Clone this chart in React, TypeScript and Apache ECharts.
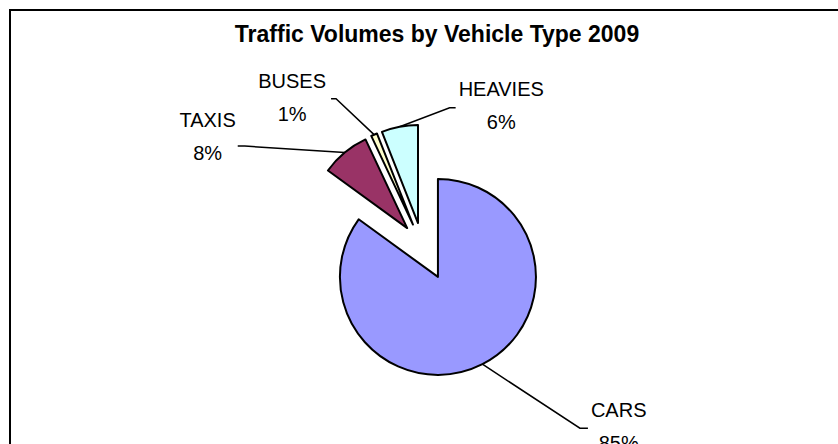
import React, { useEffect, useRef } from 'react';
import * as echarts from 'echarts';

const TITLE = 'Traffic Volumes by Vehicle Type 2009';
const categories = ['CARS', 'TAXIS', 'BUSES', 'HEAVIES'];
const shares = [85, 8, 1, 6];
const colors = ['#9999FF', '#993366', '#FFFFCC', '#CCFFFF'];

const FONT = '"Liberation Sans", Arial, Helvetica, sans-serif';
const PIE_CENTER = [422.5, 246.6];
const RADIUS = 98;
const EXPLODE = [34, 24, 24, 24];
// leader-line geometry relative to the slice's outer mid point
const LABEL_GEOM: { elbow: number[]; end: number[]; text: number[]; align: 'left' | 'right' }[] = [
  { elbow: [97.5, 64], end: [105.5, 64], text: [108.5, 62.5], align: 'left' },
  { elbow: [-100, -6.5], end: [-107, -6.5], text: [-109, -16], align: 'right' },
  { elbow: [-38, -36], end: [-43, -36], text: [-48, -37.5], align: 'right' },
  { elbow: [50, -19], end: [56, -19], text: [59, -21], align: 'left' },
];

function buildOption() {
  const total = shares.reduce((a, b) => a + b, 0);
  let cum = 0;
  const series = categories.map((cat, i) => {
    const mid = ((cum + shares[i] / 2) / total) * Math.PI * 2;
    cum += shares[i];
    const dx = Math.sin(mid);
    const dy = -Math.cos(mid);
    const apex = [PIE_CENTER[0] + EXPLODE[i] * dx, PIE_CENTER[1] + EXPLODE[i] * dy];
    const p1 = [apex[0] + RADIUS * dx, apex[1] + RADIUS * dy];
    const g = LABEL_GEOM[i];
    return {
      type: 'pie',
      silent: true,
      center: apex,
      radius: RADIUS,
      startAngle: 90,
      clockwise: true,
      avoidLabelOverlap: false,
      percentPrecision: 0,
      emphasis: { disabled: true },
      label: {
        show: true,
        position: 'outside',
        color: '#000',
        fontFamily: FONT,
        fontSize: 20,
        formatter: (p: any) => `{t|${p.name}}\n{t|${p.percent}%}`,
        rich: {
          t: { fontSize: 20, lineHeight: 33, align: 'center', color: '#000', fontFamily: FONT },
        },
      },
      labelLine: { show: true, length: 10, length2: 10, lineStyle: { color: '#000', width: 1.5 } },
      labelLayout: (params: any) =>
        params.dataIndex === i
          ? {
              x: p1[0] + g.text[0],
              y: p1[1] + g.text[1],
              align: g.align,
              verticalAlign: 'middle',
              labelLinePoints: [
                [p1[0], p1[1]],
                [p1[0] + g.elbow[0], p1[1] + g.elbow[1]],
                [p1[0] + g.end[0], p1[1] + g.end[1]],
              ],
            }
          : {},
      data: categories.map((name, j) => ({
        name,
        value: shares[j],
        itemStyle:
          j === i
            ? { color: colors[j], borderColor: '#000', borderWidth: 2 }
            : { color: 'rgba(0,0,0,0)', borderWidth: 0 },
        label: { show: j === i },
        labelLine: { show: j === i },
      })),
    };
  });

  return {
    animation: false,
    backgroundColor: '#ffffff',
    title: {
      text: TITLE,
      left: 437,
      top: 22,
      padding: 0,
      textAlign: 'center',
      textStyle: { fontSize: 23, fontWeight: 'bold', color: '#000', fontFamily: FONT },
    },
    graphic: [
      {
        type: 'rect',
        shape: { x: 10, y: 10, width: 900, height: 500 },
        style: { fill: 'none', stroke: '#000', lineWidth: 2 },
        silent: true,
        z: -1,
      },
    ],
    series,
  };
}

export default function App() {
  const ref = useRef<HTMLDivElement>(null);
  useEffect(() => {
    document.body.style.margin = '0';
    if (!ref.current) return;
    const chart = echarts.init(ref.current, undefined, { renderer: 'svg' });
    chart.setOption(buildOption() as any);
    return () => chart.dispose();
  }, []);
  return <div ref={ref} style={{ width: 838, height: 444, position: 'absolute', left: 0, top: 0 }} />;
}
